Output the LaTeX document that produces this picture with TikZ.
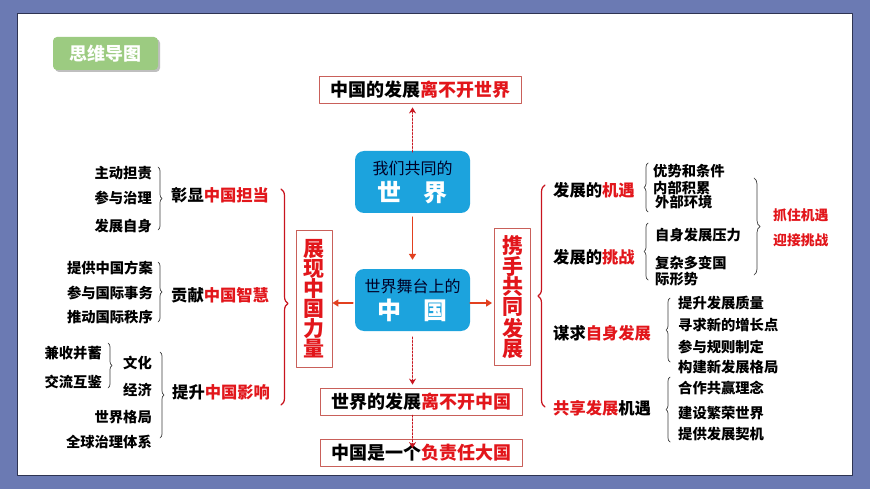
\documentclass[tikz,border=0pt]{standalone}
\usepackage{fontspec}
\setmainfont{Noto Sans CJK SC}
\usetikzlibrary{arrows.meta,decorations.pathreplacing}

\definecolor{framebg}{HTML}{6B7AB3}
\definecolor{framedge}{HTML}{2E3452}
\definecolor{keyred}{HTML}{E2161B}
\definecolor{bracered}{HTML}{C8141E}
\definecolor{boxedge}{HTML}{C9605A}
\definecolor{skyblue}{HTML}{1CA3DD}
\definecolor{tagreen}{HTML}{9CCB81}
\definecolor{arrowred}{HTML}{E2401F}
\definecolor{inkgray}{HTML}{3C3C3C}

\newcommand{\hl}[1]{\textcolor{keyred}{#1}}

\tikzset{
  item/.style={font=\fontsize{14.3}{16}\selectfont\bfseries, inner sep=0pt},
  topic/.style={font=\fontsize{16.3}{18}\selectfont\bfseries, inner sep=0pt, anchor=west},
  saying/.style={draw=boxedge, line width=0.8pt, minimum width=202pt, minimum height=27pt,
    inner sep=0pt, font=\fontsize{18}{20}\selectfont\bfseries},
  plate/.style={fill=skyblue, rounded corners=9pt, minimum width=115pt, minimum height=62pt,
    inner sep=0pt, align=center, text=black!85!blue, font=\fontsize{16}{27}\selectfont},
  pillar/.style={draw=boxedge, line width=0.8pt, minimum width=36pt, minimum height=137pt,
    inner sep=0pt, align=center, text=keyred, font=\fontsize{21}{20}\selectfont\bfseries},
  smallbrace/.style={draw=inkgray, line width=0.7pt, decorate, decoration={brace, amplitude=4pt}},
  bigbrace/.style={draw=bracered, line width=1.2pt, decorate, decoration={brace, amplitude=7pt}},
  solidarrow/.style={draw=arrowred, line width=1.8pt, -{Triangle[length=6pt, width=7pt]}},
  dotarrow/.style={draw=bracered, line width=1.5pt, dotted, -{Stealth[length=6pt, width=7pt]}},
}

\begin{document}
\begin{tikzpicture}[x=1pt, y=-1pt, line cap=round, line join=round]

  % ==========================================
  % 1. Cornice
  % ==========================================
  \fill[framebg] (0,0) rectangle (870,489);
  \filldraw[fill=white, draw=framedge, line width=0.8pt] (17,13) rectangle (852,475);

  \fill[black!25, rounded corners=4pt] (55,39) rectangle (160,72);
  \node[fill=tagreen, rounded corners=4pt, minimum width=105pt, minimum height=33pt, inner sep=0pt,
    text=white, font=\fontsize{18}{20}\selectfont\bfseries] (tag) at (105.5,53.5) {思维导图};

  % ==========================================
  % 2. Centro
  % ==========================================
  \node[saying] (top) at (420,89.5) {中国的发展\hl{离不开世界}};
  \node[plate] (world) at (412.5,182) {我们共同的\\
    {\color{white}\fontsize{24}{27}\selectfont\bfseries 世\hspace{0.9em}界}};
  \node[plate] (china) at (412.5,300) {世界舞台上的\\
    {\color{white}\fontsize{24}{27}\selectfont\bfseries 中\hspace{0.9em}国}};
  \node[pillar] (power) at (314,298.5) {展\\现\\中\\国\\力\\量};
  \node[pillar] (together) at (512.5,297) {携\\手\\共\\同\\发\\展};
  \node[saying] (needs) at (421.5,401.5) {世界的发展\hl{离不开中国}};
  \node[saying] (duty) at (421.5,453) {中国是一个\hl{负责任大国}};

  \draw[dotarrow] ([yshift=-1pt]world.north) -- ([yshift=-4pt]world.north |- top.south);
  \draw[solidarrow] ([yshift=-4pt]world.south) -- ([yshift=9pt]china.north);
  \draw[solidarrow] ([xshift=-2pt, yshift=-3pt]china.west) -- ([yshift=-3pt]china.west -| power.east);
  \draw[solidarrow] ([yshift=-3pt]china.east) -- ([xshift=-2pt, yshift=-3pt]china.east -| together.west);
  \draw[dotarrow] ([yshift=-6pt]china.south) -- ([yshift=3pt]china.south |- needs.north);
  \draw[dotarrow] (china.south |- needs.south) -- ([yshift=-9pt]china.south |- duty.north);

  % ==========================================
  % 3. Ramo sinistro
  % ==========================================
  \draw[bigbrace, decoration={aspect=0.53}] (281,189) -- (281,405);

  \node[item, anchor=east] (l11) at (152,173) {主动担责};
  \node[item, anchor=east] (l12) at (152,198) {参与治理};
  \node[item, anchor=east] (l13) at (152,226) {发展自身};
  \draw[smallbrace] (158,167) -- (158,230);
  \node[topic] (duty1) at (171,195) {彰显\hl{中国担当}};

  \node[item, anchor=east] (l21) at (153,268) {提供中国方案};
  \node[item, anchor=east] (l22) at (153,293) {参与国际事务};
  \node[item, anchor=east] (l23) at (153,317) {推动国际秩序};
  \draw[smallbrace] (158,262) -- (158,322);
  \node[topic] (wisdom) at (171,295) {贡献\hl{中国智慧}};

  \node[item, anchor=east] (l31) at (102,353) {兼收并蓄};
  \node[item, anchor=east] (l32) at (102,382) {交流互鉴};
  \draw[smallbrace] (108,343) -- (108,388);
  \node[item, anchor=east] (l33) at (152,363) {文化};
  \node[item, anchor=east] (l34) at (152,390) {经济};
  \node[item, anchor=east] (l35) at (152,417) {世界格局};
  \node[item, anchor=east] (l36) at (152,442) {全球治理体系};
  \draw[smallbrace] (160,352) -- (160,438);
  \node[topic] (impact) at (172,392) {提升\hl{中国影响}};

  % ==========================================
  % 4. Ramo destro
  % ==========================================
  \draw[bigbrace] (545,407) -- (545,185);

  \node[topic] (chance) at (553,190) {发展的\hl{机遇}};
  \draw[smallbrace] (648,212) -- (648,163);
  \node[item, anchor=west] (r11) at (653,171) {优势和条件};
  \node[item, anchor=west] (r12) at (653,188) {内部积累};
  \node[item, anchor=west] (r13) at (655,202) {外部环境};

  \node[topic] (risk) at (553,257) {发展的\hl{挑战}};
  \draw[smallbrace] (648,280) -- (648,223);
  \node[item, anchor=west] (r21) at (655,235) {自身发展压力};
  \node[item, anchor=west] (r22) at (655,263) {复杂多变国};
  \node[item, anchor=west] (r23) at (655,279) {际形势};

  \draw[smallbrace, decoration={amplitude=6pt}] (754,178) -- (754,275);
  \node[item, anchor=west, text=keyred, font=\fontsize{13.8}{16}\selectfont\bfseries] (grab) at (773,215) {抓住机遇};
  \node[item, anchor=west, text=keyred, font=\fontsize{13.8}{16}\selectfont\bfseries] (meet) at (773,240) {迎接挑战};

  \node[topic] (self) at (553,333) {谋求\hl{自身发展}};
  \draw[smallbrace] (670,362) -- (670,298);
  \node[item, anchor=west] (r31) at (678,303) {提升发展质量};
  \node[item, anchor=west] (r32) at (678,325) {寻求新的增长点};
  \node[item, anchor=west] (r33) at (678,347) {参与规则制定};
  \node[item, anchor=west] (r34) at (678,367) {构建新发展格局};

  \node[topic] (share) at (553,408) {\hl{共享发展}机遇};
  \draw[smallbrace] (670,442) -- (670,377);
  \node[item, anchor=west] (r41) at (678,388) {合作共赢理念};
  \node[item, anchor=west] (r42) at (678,413) {建设繁荣世界};
  \node[item, anchor=west] (r43) at (678,434) {提供发展契机};

\end{tikzpicture}
\end{document}
